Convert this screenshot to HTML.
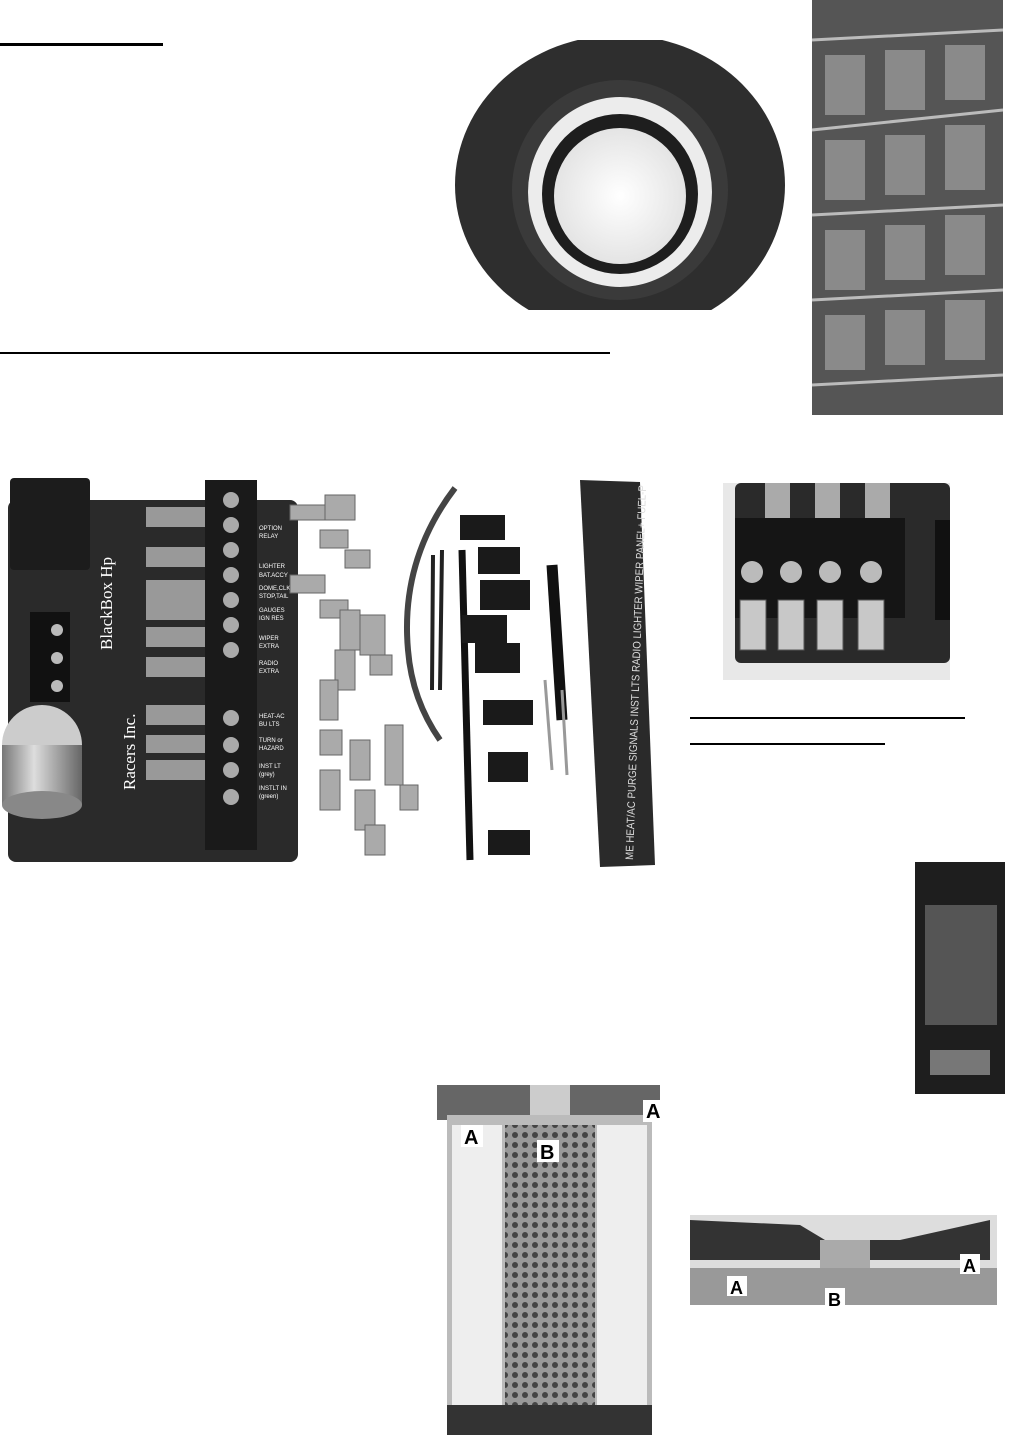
<!DOCTYPE html>
<html><head><style>
html,body{margin:0;padding:0;background:#fff;}
body{width:1015px;height:1435px;position:relative;overflow:hidden;font-family:"Liberation Sans",sans-serif;}
svg{position:absolute;left:0;top:0;}
</style></head><body>
<svg width="1015" height="1435" viewBox="0 0 1015 1435" xmlns="http://www.w3.org/2000/svg">
<defs>
<radialGradient id="tg" cx="50%" cy="50%" r="50%"><stop offset="0" stop-color="#fff"/><stop offset="1" stop-color="#e4e4e4"/></radialGradient>
<linearGradient id="can" x1="0" x2="1"><stop offset="0" stop-color="#777"/><stop offset="0.4" stop-color="#ddd"/><stop offset="1" stop-color="#666"/></linearGradient>
<pattern id="perf" width="10" height="10" patternUnits="userSpaceOnUse"><rect width="10" height="10" fill="#999"/><circle cx="5" cy="5" r="3" fill="#444"/></pattern>
<clipPath id="tc"><rect x="447" y="40" width="343" height="270"/></clipPath>
</defs>
<rect x="0" y="43" width="163" height="3" fill="#000"/>
<rect x="0" y="352" width="610" height="2" fill="#000"/>
<rect x="690" y="717" width="275" height="2" fill="#000"/>
<rect x="690" y="743" width="195" height="2" fill="#000"/>

<!-- tire -->
<g clip-path="url(#tc)">
<ellipse cx="620" cy="185" rx="165" ry="150" fill="#2e2e2e"/>
<ellipse cx="620" cy="190" rx="108" ry="110" fill="#3a3a3a"/>
<ellipse cx="620" cy="192" rx="92" ry="95" fill="#ececec"/>
<ellipse cx="620" cy="194" rx="78" ry="80" fill="#1e1e1e"/>
<ellipse cx="620" cy="196" rx="66" ry="68" fill="url(#tg)"/>
</g>

<!-- tread -->
<rect x="812" y="0" width="191" height="415" fill="#555"/>
<g stroke="#bbb" stroke-width="3" fill="none">
<path d="M812 40 L1003 30 M812 130 L1003 110 M812 215 L1003 205 M812 300 L1003 290 M812 385 L1003 375"/>
</g>
<g fill="#8a8a8a"><rect x="825" y="55" width="40" height="60"/><rect x="885" y="50" width="40" height="60"/><rect x="945" y="45" width="40" height="55"/><rect x="825" y="140" width="40" height="60"/><rect x="885" y="135" width="40" height="60"/><rect x="945" y="125" width="40" height="65"/><rect x="825" y="230" width="40" height="60"/><rect x="885" y="225" width="40" height="55"/><rect x="945" y="215" width="40" height="60"/><rect x="825" y="315" width="40" height="55"/><rect x="885" y="310" width="40" height="55"/><rect x="945" y="300" width="40" height="60"/></g>

<!-- fuse box board -->
<rect x="8" y="500" width="290" height="362" rx="8" fill="#2a2a2a"/>
<rect x="10" y="478" width="80" height="92" rx="4" fill="#1c1c1c"/>
<rect x="30" y="612" width="40" height="90" fill="#111"/>
<circle cx="57" cy="630" r="6" fill="#bbb"/><circle cx="57" cy="658" r="6" fill="#bbb"/><circle cx="57" cy="686" r="6" fill="#bbb"/>
<ellipse cx="42" cy="745" rx="40" ry="40" fill="#ccc"/>
<rect x="2" y="745" width="80" height="60" fill="url(#can)"/>
<ellipse cx="42" cy="805" rx="40" ry="14" fill="#888"/>
<g fill="#999">
<rect x="146" y="507" width="60" height="20"/><rect x="146" y="547" width="60" height="20"/><rect x="146" y="580" width="60" height="20"/><rect x="146" y="600" width="60" height="20"/><rect x="146" y="627" width="60" height="20"/><rect x="146" y="657" width="60" height="20"/><rect x="146" y="705" width="60" height="20"/><rect x="146" y="735" width="60" height="18"/><rect x="146" y="760" width="60" height="20"/>
</g>
<rect x="205" y="480" width="52" height="370" fill="#1a1a1a"/>
<g fill="#aaa"><circle cx="231" cy="500" r="8"/><circle cx="231" cy="525" r="8"/><circle cx="231" cy="550" r="8"/><circle cx="231" cy="575" r="8"/><circle cx="231" cy="600" r="8"/><circle cx="231" cy="625" r="8"/><circle cx="231" cy="650" r="8"/><circle cx="231" cy="718" r="8"/><circle cx="231" cy="745" r="8"/><circle cx="231" cy="770" r="8"/><circle cx="231" cy="797" r="8"/></g>
<g fill="#fff" font-size="6">
<text x="259" y="530">OPTION</text><text x="259" y="538">RELAY</text>
<text x="259" y="568">LIGHTER</text><text x="259" y="577">BAT.ACCY</text>
<text x="259" y="590">DOME,CLK</text><text x="259" y="598">STOP,TAIL</text>
<text x="259" y="612">GAUGES</text><text x="259" y="620">IGN RES</text>
<text x="259" y="640">WIPER</text><text x="259" y="648">EXTRA</text>
<text x="259" y="665">RADIO</text><text x="259" y="673">EXTRA</text>
<text x="259" y="718">HEAT-AC</text><text x="259" y="726">BU LTS</text>
<text x="259" y="742">TURN or</text><text x="259" y="750">HAZARD</text>
<text x="259" y="768">INST LT</text><text x="259" y="776">(grey)</text>
<text x="259" y="790">INSTLT IN</text><text x="259" y="798">(green)</text>
</g>
<text x="0" y="0" transform="translate(112,650) rotate(-90)" font-size="17" fill="#fff" font-family="Liberation Serif,serif">BlackBox Hp</text>
<text x="0" y="0" transform="translate(135,790) rotate(-90)" font-size="17" fill="#fff" font-family="Liberation Serif,serif">Racers Inc.</text>
<g fill="#aaa" stroke="#666">
<rect x="290" y="505" width="35" height="15"/><rect x="325" y="495" width="30" height="25"/><rect x="320" y="530" width="28" height="18"/><rect x="345" y="550" width="25" height="18"/><rect x="290" y="575" width="35" height="18"/>
<rect x="320" y="600" width="28" height="18"/><rect x="340" y="610" width="20" height="40"/><rect x="360" y="615" width="25" height="40"/><rect x="335" y="650" width="20" height="40"/><rect x="370" y="655" width="22" height="20"/><rect x="320" y="680" width="18" height="40"/>
<rect x="320" y="730" width="22" height="25"/><rect x="350" y="740" width="20" height="40"/><rect x="385" y="725" width="18" height="60"/><rect x="320" y="770" width="20" height="40"/><rect x="355" y="790" width="20" height="40"/><rect x="400" y="785" width="18" height="25"/><rect x="365" y="825" width="20" height="30"/>
</g>
<path d="M455 488 Q400 560 408 650 Q412 700 440 740" stroke="#444" stroke-width="6" fill="none"/>
<path d="M433 555 L432 690 M442 550 L440 690" stroke="#222" stroke-width="4"/>
<path d="M462 550 L470 860" stroke="#111" stroke-width="7"/>
<g fill="#1a1a1a">
<rect x="460" y="515" width="45" height="25"/><rect x="478" y="547" width="42" height="27"/><rect x="480" y="580" width="50" height="30"/><rect x="462" y="615" width="45" height="28"/><rect x="475" y="643" width="45" height="30"/><rect x="483" y="700" width="50" height="25"/><rect x="488" y="752" width="40" height="30"/><rect x="488" y="830" width="42" height="25"/>
</g>
<path d="M552 565 L562 720" stroke="#111" stroke-width="11"/>
<path d="M545 680 L552 770 M562 690 L567 775" stroke="#999" stroke-width="3"/>
<path d="M580 480 L640 482 L655 865 L600 867 Z" fill="#2a2a2a"/>
<text x="0" y="0" transform="translate(633,860) rotate(-88)" font-size="11" fill="#ddd" textLength="375" lengthAdjust="spacingAndGlyphs">ME  HEAT/AC  PURGE  SIGNALS INST LTS  RADIO  LIGHTER  WIPER  PANEL+  FUEL-P</text>

<!-- closeup -->
<rect x="723" y="483" width="227" height="197" fill="#e8e8e8"/>
<rect x="735" y="483" width="215" height="180" rx="6" fill="#2a2a2a"/>
<g fill="#aaa"><rect x="765" y="483" width="25" height="35"/><rect x="815" y="483" width="25" height="35"/><rect x="865" y="483" width="25" height="35"/></g>
<rect x="735" y="518" width="170" height="100" fill="#151515"/>
<g fill="#bbb"><circle cx="752" cy="572" r="11"/><circle cx="791" cy="572" r="11"/><circle cx="830" cy="572" r="11"/><circle cx="871" cy="572" r="11"/></g>
<g fill="#c8c8c8" stroke="#555"><rect x="740" y="600" width="26" height="50"/><rect x="778" y="600" width="26" height="50"/><rect x="817" y="600" width="26" height="50"/><rect x="858" y="600" width="26" height="50"/></g>
<rect x="935" y="520" width="15" height="100" fill="#111"/>

<!-- zinc packet -->
<rect x="915" y="862" width="90" height="232" fill="#1e1e1e"/>
<rect x="925" y="905" width="72" height="120" fill="#555"/>
<rect x="930" y="1050" width="60" height="25" fill="#777"/>

<!-- oil filter -->
<path d="M437 1085 L660 1085 L660 1120 L437 1120 Z" fill="#666"/>
<rect x="530" y="1085" width="40" height="40" fill="#ccc"/>
<rect x="447" y="1115" width="205" height="310" fill="#bbb"/>
<rect x="452" y="1125" width="50" height="290" fill="#eee"/>
<rect x="597" y="1125" width="50" height="290" fill="#eee"/>
<rect x="505" y="1125" width="90" height="290" fill="url(#perf)"/>
<rect x="447" y="1405" width="205" height="30" fill="#333"/>
<g font-weight="bold" font-size="20" fill="#000">
<rect x="461" y="1125" width="22" height="22" fill="#fff"/><text x="464" y="1144">A</text>
<rect x="537" y="1140" width="22" height="22" fill="#fff"/><text x="540" y="1159">B</text>
<rect x="643" y="1100" width="22" height="22" fill="#fff"/><text x="646" y="1118">A</text>
</g>

<!-- filter top closeup -->
<rect x="690" y="1215" width="307" height="90" fill="#ddd"/>
<path d="M690 1220 L800 1225 L825 1240 L900 1240 L990 1220 L990 1260 L690 1260 Z" fill="#333"/>
<rect x="820" y="1240" width="50" height="40" fill="#aaa"/>
<rect x="690" y="1268" width="307" height="37" fill="#999"/>
<g font-weight="bold" font-size="18" fill="#000">
<rect x="727" y="1276" width="20" height="20" fill="#fff"/><text x="730" y="1294">A</text>
<rect x="825" y="1288" width="20" height="20" fill="#fff"/><text x="828" y="1306">B</text>
<rect x="960" y="1254" width="20" height="20" fill="#fff"/><text x="963" y="1272">A</text>
</g>
</svg>
</body></html>
